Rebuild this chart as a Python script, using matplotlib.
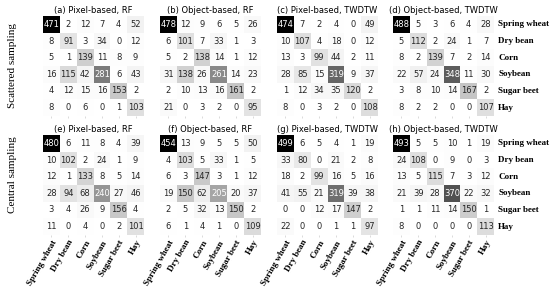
import numpy as np
import matplotlib.pyplot as plt
import seaborn as sns

classes = ['Spring wheat', 'Dry bean', 'Corn', 'Soybean', 'Sugar beet', 'Hay']
titles = ['(a) Pixel-based, RF', '(b) Object-based, RF',
          '(c) Pixel-based, TWDTW', '(d) Object-based, TWDTW',
          '(e) Pixel-based, RF', '(f) Object-based, RF',
          '(g) Pixel-based, TWDTW', '(h) Object-based, TWDTW']
row_labels = ['Scattered sampling', 'Central sampling']

cm_a = [[471, 2, 12, 7, 4, 52], [8, 91, 3, 34, 0, 12], [5, 1, 139, 11, 8, 9],
        [16, 115, 42, 281, 6, 43], [4, 12, 15, 16, 153, 2], [8, 0, 6, 0, 1, 103]]
cm_b = [[478, 12, 9, 6, 5, 26], [6, 101, 7, 33, 1, 3], [5, 2, 138, 14, 1, 12],
        [31, 138, 26, 261, 14, 23], [2, 10, 13, 16, 161, 2], [21, 0, 3, 2, 0, 95]]
cm_c = [[474, 7, 2, 4, 0, 49], [10, 107, 4, 18, 0, 12], [13, 3, 99, 44, 2, 11],
        [28, 85, 15, 319, 9, 37], [1, 12, 34, 35, 120, 2], [8, 0, 3, 2, 0, 108]]
cm_d = [[488, 5, 3, 6, 4, 28], [5, 112, 2, 24, 1, 7], [8, 2, 139, 7, 2, 14],
        [22, 57, 24, 348, 11, 30], [3, 8, 10, 14, 167, 2], [8, 2, 2, 0, 0, 107]]
cm_e = [[480, 6, 11, 8, 4, 39], [10, 102, 2, 24, 1, 9], [12, 1, 133, 8, 5, 14],
        [28, 94, 68, 240, 27, 46], [3, 4, 26, 9, 156, 4], [11, 0, 4, 0, 2, 101]]
cm_f = [[454, 13, 9, 5, 5, 50], [4, 103, 5, 33, 1, 5], [6, 3, 147, 3, 1, 12],
        [19, 150, 62, 205, 20, 37], [2, 5, 32, 13, 150, 2], [6, 1, 4, 1, 0, 109]]
cm_g = [[499, 6, 5, 4, 1, 19], [33, 80, 0, 21, 2, 8], [18, 2, 99, 16, 5, 16],
        [41, 55, 21, 319, 39, 38], [0, 0, 12, 17, 147, 2], [22, 0, 0, 1, 1, 97]]
cm_h = [[493, 5, 5, 10, 1, 19], [24, 108, 0, 9, 0, 3], [13, 5, 115, 7, 3, 12],
        [21, 39, 28, 370, 22, 32], [1, 1, 11, 14, 150, 1], [8, 0, 0, 0, 0, 113]]

matrices = [cm_a, cm_b, cm_c, cm_d, cm_e, cm_f, cm_g, cm_h]

fig = plt.figure(figsize=(5.5, 2.89), dpi=100)

lefts = [43, 160, 277, 393]
tops = [16, 135]
w, h = 101, 100
serif = 'Liberation Serif'

for i, cm in enumerate(matrices):
    r, c = divmod(i, 4)
    ax = fig.add_axes([lefts[c] / 550, 1 - (tops[r] + h) / 289, w / 550, h / 289])
    sns.heatmap(np.array(cm), ax=ax, cmap='Greys', annot=True, fmt='d', cbar=False,
                annot_kws={'fontsize': 6}, square=False)
    ax.set_title(titles[i], fontsize=6, pad=2)
    ax.tick_params(length=1.5, width=0.5, color='#cccccc', pad=1)
    ax.set_xticks(np.arange(6) + 0.5)
    ax.set_yticks(np.arange(6) + 0.5)
    if r == 1:
        ax.set_xticklabels(classes, rotation=60, ha='right', rotation_mode='anchor',
                           fontsize=6.5, family=serif, fontweight='bold')
    else:
        ax.set_xticklabels([])
    if c == 3:
        ax.yaxis.tick_right()
        ax.set_yticklabels(classes, rotation=0, fontsize=6.5, family=serif,
                           fontweight='bold', va='center')
        ax.tick_params(axis='y', length=0, pad=3)
    else:
        ax.set_yticklabels([])
        ax.tick_params(axis='y', length=0)
    if c == 0:
        ax.text(-0.3, 0.5 if r == 0 else 0.6, row_labels[r], rotation=90, transform=ax.transAxes,
                ha='center', va='center', fontsize=8, family=serif)

fig.savefig('out.png', dpi=100)
